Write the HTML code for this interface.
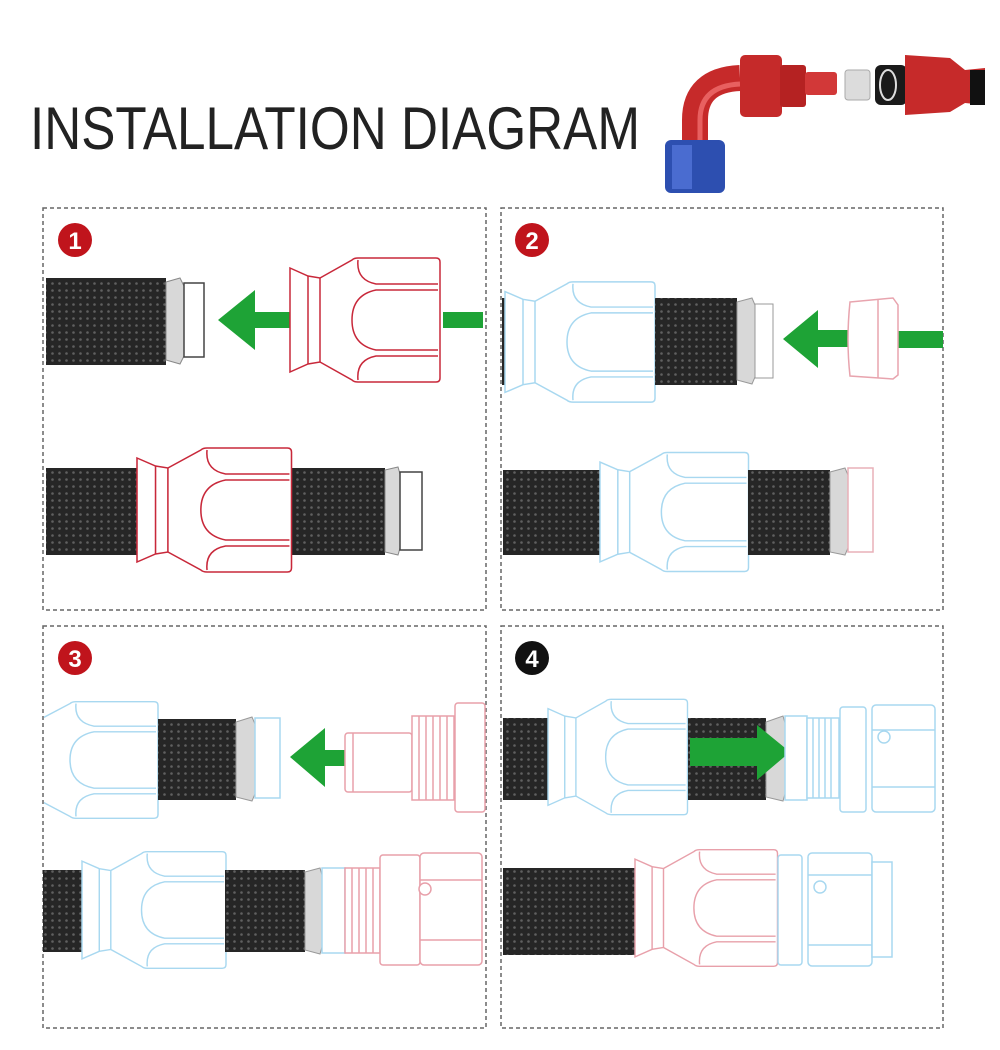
<!DOCTYPE html>
<html><head><meta charset="utf-8"><style>
html,body{margin:0;padding:0;background:#fff;width:1000px;height:1050px;overflow:hidden}
svg{display:block}
</style></head><body>
<svg width="1000" height="1050" viewBox="0 0 1000 1050" xmlns="http://www.w3.org/2000/svg">
<defs>
<pattern id="braid" width="7" height="7" patternUnits="userSpaceOnUse">
<rect width="7" height="7" fill="#262626"/>
<circle cx="3.5" cy="3.5" r="1.3" fill="#606060"/>
</pattern>
<g id="sock" fill="#fff" stroke-width="1.5">
<path d="M0,-52 L18,-44 L30,-42 L62,-60 Q64,-62 68,-62 L146,-62 Q150,-62 150,-58 L150,58 Q150,62 146,62 L68,62 Q64,62 62,60 L30,42 L18,44 L0,52 Z"/>
<path d="M18,-44 L18,44 M30,-42 L30,42" fill="none"/>
<path d="M148,-36 L86,-36 Q66,-40 68,-60 M148,36 L86,36 Q66,40 68,60" fill="none"/>
<path d="M148,-30 L86,-30 Q62,-25 62,0 Q62,25 86,30 L148,30" fill="none"/>
</g>
<clipPath id="c3"><rect x="44" y="627" width="442" height="400"/></clipPath>
<clipPath id="c2"><rect x="502" y="209" width="441" height="400"/></clipPath>
</defs>

<text x="30" y="149" font-family="Liberation Sans, sans-serif" font-size="60" fill="#222" textLength="610" lengthAdjust="spacingAndGlyphs">INSTALLATION DIAGRAM</text>

<path d="M695,165 L695,120 Q695,80 740,78" fill="none" stroke="#c62a2a" stroke-width="26"/>
<path d="M700,160 L700,120 Q700,86 740,84" fill="none" stroke="#e86060" stroke-width="5"/>
<rect x="665" y="140" width="60" height="53" rx="6" fill="#2d4fb0"/>
<rect x="672" y="145" width="20" height="44" fill="#4a6cd0"/>
<rect x="740" y="55" width="42" height="62" rx="5" fill="#c52a2a"/>
<rect x="780" y="65" width="26" height="42" rx="3" fill="#b52222"/>
<rect x="805" y="72" width="32" height="23" rx="3" fill="#d23838"/>
<rect x="845" y="70" width="25" height="30" rx="3" fill="#dcdcdc" stroke="#aaa"/>
<rect x="875" y="65" width="32" height="40" rx="6" fill="#1a1a1a"/>
<ellipse cx="888" cy="85" rx="8" ry="15" fill="none" stroke="#ddd" stroke-width="2"/>
<path d="M905,55 L950,58 L965,70 L985,68 L985,105 L965,103 L950,112 L905,115 Z" fill="#c62a2a"/>
<rect x="970" y="70" width="15" height="35" fill="#111"/>

<g fill="none" stroke="#666" stroke-width="1.5" stroke-dasharray="4,3">
<rect x="43" y="208" width="443" height="402"/>
<rect x="501" y="208" width="442" height="402"/>
<rect x="43" y="626" width="443" height="402"/>
<rect x="501" y="626" width="442" height="402"/>
</g>

<g font-family="Liberation Sans, sans-serif" font-weight="bold" font-size="24" fill="#fff" text-anchor="middle">
<circle cx="75" cy="240" r="17" fill="#c0141c"/><text x="75" y="249">1</text>
<circle cx="532" cy="240" r="17" fill="#c0141c"/><text x="532" y="249">2</text>
<circle cx="75" cy="658" r="17" fill="#c0141c"/><text x="75" y="667">3</text>
<circle cx="532" cy="658" r="17" fill="#111"/><text x="532" y="667">4</text>
</g>

<rect x="46" y="278" width="120" height="87" fill="url(#braid)"/>
<path d="M166,282 L180,278 L184,286 L184,356 L180,364 L166,360 Z" fill="#d8d8d8" stroke="#888"/>
<rect x="184" y="283" width="20" height="74" fill="#fff" stroke="#444" stroke-width="1.5"/>
<path d="M218,320 L255,290 L255,312 L292,312 L292,328 L255,328 L255,350 Z" fill="#1ea336"/>
<rect x="443" y="312" width="40" height="16" fill="#1ea336"/>
<use href="#sock" stroke="#c8283a" transform="translate(290,320)"/>
<rect x="46" y="468" width="92" height="87" fill="url(#braid)"/>
<rect x="292" y="468" width="93" height="87" fill="url(#braid)"/>
<path d="M385,470 L398,467 L400,474 L400,548 L398,555 L385,552 Z" fill="#d8d8d8" stroke="#888"/>
<rect x="400" y="472" width="22" height="78" fill="#fff" stroke="#444" stroke-width="1.5"/>
<use href="#sock" stroke="#c8283a" transform="translate(137,510) scale(1.03,1.0)"/>

<g clip-path="url(#c2)">
<rect x="500" y="298" width="8" height="87" fill="#262626"/>
<use href="#sock" stroke="#a8d8f0" transform="translate(505,342) scale(1,0.97)"/>
</g>
<rect x="655" y="298" width="82" height="87" fill="url(#braid)"/>
<path d="M737,302 L752,298 L755,305 L755,377 L752,384 L737,380 Z" fill="#d8d8d8" stroke="#999"/>
<rect x="755" y="304" width="18" height="74" fill="#fff" stroke="#999"/>
<path d="M783,339 L818,310 L818,330 L848,330 L848,347 L818,347 L818,368 Z" fill="#1ea336"/>
<rect x="898" y="331" width="45" height="17" fill="#1ea336"/>
<path d="M850,302 L893,298 L898,305 L898,375 L893,379 L850,376 Q846,340 850,302 Z" fill="#fff" stroke="#e8a4ae" stroke-width="1.5"/>
<line x1="878" y1="300" x2="878" y2="378" stroke="#e8a4ae" stroke-width="1.5"/>
<rect x="503" y="470" width="97" height="85" fill="url(#braid)"/>
<use href="#sock" stroke="#a8d8f0" transform="translate(600,512) scale(0.99,0.96)"/>
<rect x="748" y="470" width="82" height="85" fill="url(#braid)"/>
<path d="M830,472 L845,468 L848,475 L848,548 L845,555 L830,552 Z" fill="#d8d8d8" stroke="#999"/>
<rect x="848" y="468" width="25" height="84" fill="#fff" stroke="#e8b0b8" stroke-width="1.5"/>

<g clip-path="url(#c3)">
<use href="#sock" stroke="#a8d8f0" transform="translate(8,760) scale(1,0.94)"/>
</g>
<rect x="158" y="719" width="78" height="81" fill="url(#braid)"/>
<path d="M236,722 L252,717 L255,724 L255,794 L252,801 L236,797 Z" fill="#d8d8d8" stroke="#999"/>
<rect x="255" y="718" width="25" height="80" fill="#fff" stroke="#a8d8f0" stroke-width="1.5"/>
<path d="M290,757 L325,728 L325,750 L346,750 L346,766 L325,766 L325,787 Z" fill="#1ea336"/>
<g fill="#fff" stroke="#e8a0aa" stroke-width="1.5">
<rect x="345" y="733" width="67" height="59" rx="3"/>
<line x1="353" y1="733" x2="353" y2="792"/>
<rect x="412" y="716" width="42" height="84"/>
<path d="M419,716 V800 M426,716 V800 M433,716 V800 M440,716 V800 M447,716 V800"/>
<rect x="455" y="703" width="30" height="109" rx="3"/>
</g>
<rect x="43" y="870" width="39" height="82" fill="url(#braid)"/>
<use href="#sock" stroke="#a8d8f0" transform="translate(82,910) scale(0.96,0.94)"/>
<rect x="225" y="870" width="80" height="82" fill="url(#braid)"/>
<path d="M305,872 L320,868 L322,875 L322,947 L320,954 L305,950 Z" fill="#d8d8d8" stroke="#999"/>
<rect x="322" y="868" width="23" height="85" fill="#fff" stroke="#a8d8f0" stroke-width="1.5"/>
<g fill="#fff" stroke="#e8a0aa" stroke-width="1.5">
<rect x="345" y="868" width="35" height="85"/>
<path d="M352,868 V953 M359,868 V953 M366,868 V953 M373,868 V953"/>
<rect x="380" y="855" width="40" height="110" rx="3"/>
<rect x="420" y="853" width="62" height="112" rx="4"/>
<path d="M420,880 H482 M420,940 H482"/>
<circle cx="425" cy="889" r="6"/>
</g>

<rect x="503" y="718" width="48" height="82" fill="url(#braid)"/>
<use href="#sock" stroke="#a8d8f0" transform="translate(548,757) scale(0.93,0.93)"/>
<rect x="688" y="718" width="78" height="82" fill="url(#braid)"/>
<path d="M766,722 L783,716 L785,723 L785,794 L783,801 L766,797 Z" fill="#d8d8d8" stroke="#999"/>
<path d="M690,738 L757,738 L757,725 L790,752 L757,780 L757,766 L690,766 Z" fill="#1ea336"/>
<g fill="#fff" stroke="#a8d8f0" stroke-width="1.5">
<rect x="785" y="716" width="22" height="84"/>
<rect x="807" y="718" width="32" height="80"/>
<path d="M813,718 V798 M819,718 V798 M825,718 V798 M831,718 V798"/>
<rect x="840" y="707" width="26" height="105" rx="3"/>
<rect x="872" y="705" width="63" height="107" rx="4"/>
<path d="M872,730 H935 M872,787 H935"/>
<circle cx="884" cy="737" r="6"/>
</g>
<rect x="503" y="868" width="132" height="87" fill="url(#braid)"/>
<use href="#sock" stroke="#e8a0aa" transform="translate(635,908) scale(0.95,0.94)"/>
<g fill="#fff" stroke="#a8d8f0" stroke-width="1.5">
<rect x="778" y="855" width="24" height="110" rx="3"/>
<rect x="808" y="853" width="64" height="113" rx="4"/>
<rect x="872" y="862" width="20" height="95"/>
<path d="M808,875 H872 M808,945 H872"/>
<circle cx="820" cy="887" r="6"/>
</g>
</svg>
</body></html>
